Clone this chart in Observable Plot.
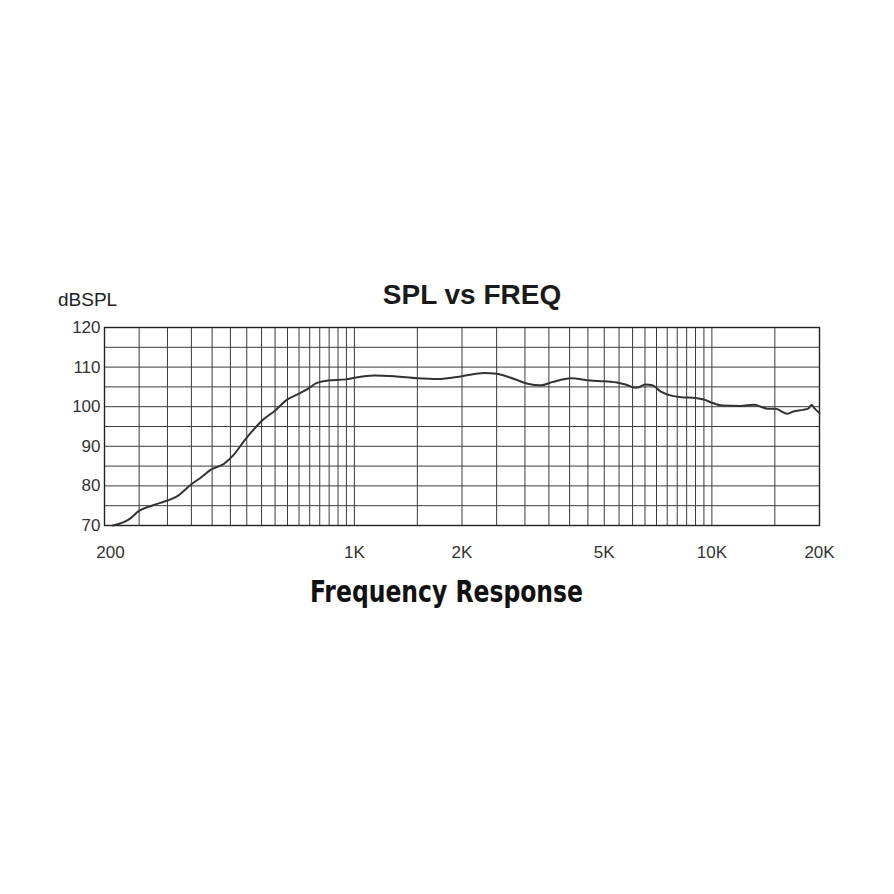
<!DOCTYPE html>
<html>
<head>
<meta charset="utf-8">
<script src="https://cdn.jsdelivr.net/npm/d3@7"></script>
<script src="https://cdn.jsdelivr.net/npm/@observablehq/plot@0.6"></script>
<style>
  html, body { margin: 0; padding: 0; background: #fff; }
  #chart { position: relative; width: 894px; height: 894px; }
</style>
</head>
<body>
<div id="chart"></div>
<script>
// Frequency (Hz) and SPL (dB)
const freq = [211, 233, 251, 271, 300, 318, 350, 373, 397, 432, 458, 493, 520, 555, 600, 644, 700, 752, 780, 842, 950, 1000, 1138, 1294, 1500, 1711, 2000, 2307, 2500, 2800, 3053, 3328, 3574, 4040, 4570, 5000, 5500, 5736, 6100, 6254, 6500, 6820, 7200, 7700, 8200, 9000, 9500, 10000, 10700, 12000, 13100, 13700, 14300, 15100, 15600, 16200, 16900, 18000, 18600, 19000, 19400, 20000];
const spl = [70.0, 71.4, 73.8, 75.0, 76.3, 77.3, 80.4, 82.2, 84.1, 85.6, 87.7, 91.5, 94.0, 96.7, 99.0, 101.6, 103.3, 104.9, 105.9, 106.6, 106.9, 107.3, 107.9, 107.7, 107.2, 107.0, 107.7, 108.5, 108.3, 107.0, 105.8, 105.4, 106.2, 107.2, 106.6, 106.4, 106.0, 105.6, 104.8, 104.9, 105.6, 105.4, 103.8, 102.8, 102.4, 102.2, 101.8, 101.0, 100.3, 100.2, 100.5, 100.0, 99.5, 99.5, 98.9, 98.2, 98.8, 99.2, 99.5, 100.5, 99.5, 98.4];

// Grid lines and tick labels
const xGrid = [250, 300, 350, 400, 450, 500, 550, 600, 650, 700, 750, 800, 850, 900, 950, 1000,
  1500, 2000, 2500, 3000, 3500, 4000, 4500, 5000, 5500, 6000, 6500, 7000, 7500, 8000, 8500, 9000, 9500, 10000, 15000];
const yGrid = [75, 80, 85, 90, 95, 100, 105, 110, 115];
const xTicks = [200, 1000, 2000, 5000, 10000, 20000];
const xTickLabels = ["200", "1K", "2K", "5K", "10K", "20K"];
const yTicks = [70, 80, 90, 100, 110, 120];

const titleText = "SPL vs FREQ";
const yUnitText = "dBSPL";
const captionText = "Frequency Response";

const data = freq.map((f, i) => ({f, v: spl[i]}));

const plot = Plot.plot({
  width: 894,
  height: 894,
  marginLeft: 104,
  marginRight: 75,
  marginTop: 327,
  marginBottom: 369,
  style: {fontFamily: "'Liberation Sans', Arial, sans-serif", background: "#fff", color: "#333"},
  x: {type: "log", domain: [200, 20000], ticks: xTicks, tickFormat: d => xTickLabels[xTicks.indexOf(d)], tickSize: 0, tickPadding: 20, label: null},
  y: {domain: [70, 120], ticks: yTicks, tickSize: 0, tickPadding: 4, label: null},
  marks: [
    Plot.ruleX(xGrid, {stroke: "#3a3a3a", strokeWidth: 1, strokeOpacity: 1}),
    Plot.ruleY(yGrid, {stroke: "#3a3a3a", strokeWidth: 1, strokeOpacity: 1}),
    Plot.frame({stroke: "#222", strokeWidth: 1.4}),
    Plot.line(data, {x: "f", y: "v", stroke: "#333", strokeWidth: 2, curve: "monotone-x"})
  ]
});
plot.style.position = "absolute";
plot.style.left = "0px";
plot.style.top = "0px";
d3.select(plot).selectAll("[aria-label='x-axis tick label'] text, [aria-label='y-axis tick label'] text")
  .style("font-size", "17px").attr("fill", "#333");
// the "200" label sits slightly right of the frame edge in the reference
d3.select(plot).selectAll("[aria-label='x-axis tick label'] text").filter((d, i) => i === 0).attr("dx", 6);
document.getElementById("chart").appendChild(plot);

const svg = d3.select(plot);
svg.append("text").text(titleText)
  .attr("x", 472).attr("y", 304).attr("text-anchor", "middle")
  .style("font-family", "'Liberation Sans', Arial, sans-serif").style("font-weight", "bold")
  .style("font-size", "28px").attr("fill", "#1a1a1a");
svg.append("text").text(yUnitText)
  .attr("x", 58).attr("y", 306).attr("text-anchor", "start")
  .style("font-family", "'Liberation Sans', Arial, sans-serif")
  .style("font-size", "19px").attr("fill", "#222");
svg.append("text").text(captionText)
  .attr("x", 310).attr("y", 602).attr("text-anchor", "start")
  .attr("textLength", 273).attr("lengthAdjust", "spacingAndGlyphs")
  .style("font-family", "'Liberation Sans Narrow', 'DejaVu Sans Condensed', 'Roboto', sans-serif")
  .style("font-weight", "bold").style("font-stretch", "condensed")
  .style("font-size", "31px").attr("fill", "#111");
</script>
</body>
</html>
